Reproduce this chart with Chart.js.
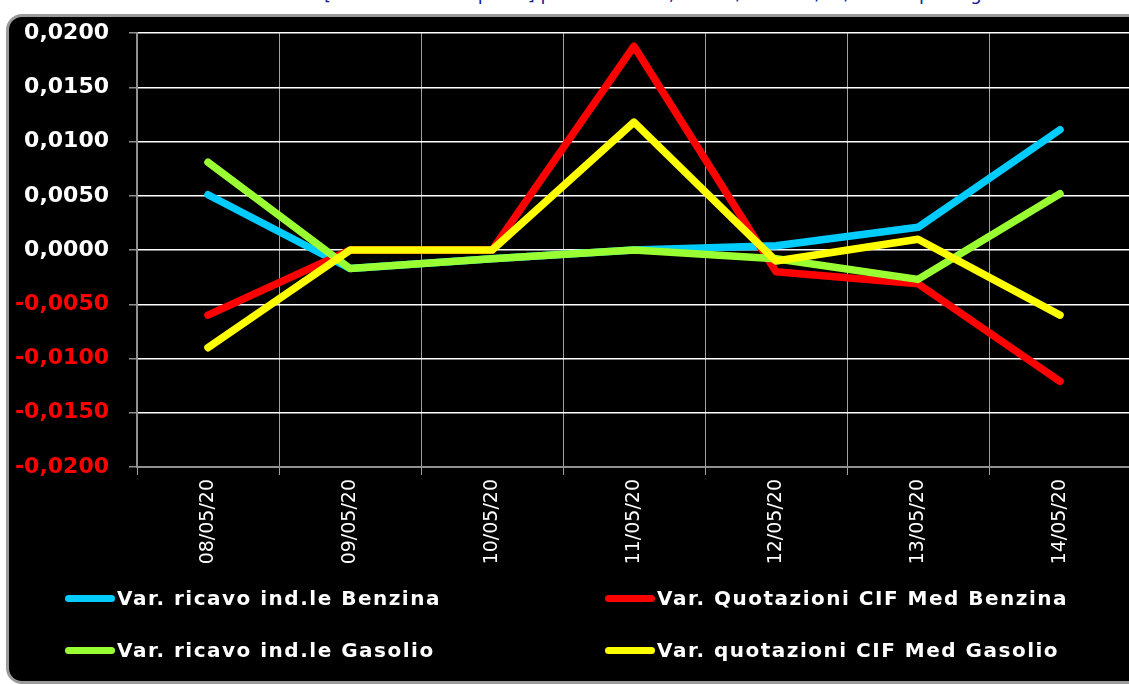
<!DOCTYPE html>
<html>
<head>
<meta charset="utf-8">
<script src="https://cdn.jsdelivr.net/npm/chart.js@4"></script>
<style>
  html, body { margin: 0; padding: 0; background: #fff; width: 1129px; height: 684px; overflow: hidden; position: relative; }
  #title { position: absolute; left: 30px; top: -17px; font: 18px "DejaVu Sans", Verdana, sans-serif; color: #1a1a9a; white-space: nowrap; }
  #box { position: absolute; left: 6px; top: 14px; width: 1135px; height: 664px; background: #000; border: 3px solid #9a9a9a; border-radius: 16px; }
  #wrap { position: absolute; left: 0; top: 0; width: 1140px; height: 684px; }
  #legend { position: absolute; left: 0; top: 0; width: 1129px; height: 684px; pointer-events: none; }
  .item { position: absolute; display: flex; align-items: center; color: #fff; font: bold 20px "DejaVu Sans", Verdana, sans-serif; letter-spacing: 1.5px; white-space: nowrap; }
  .swatch { width: 50px; height: 7px; border-radius: 4px; margin-right: 2px; }
</style>
</head>
<body>
<div id="title">Variazione del ricavo industriale [al netto delle imposte] per la benzina, dal 08/05 al 14/05/2020 e per il gasolio</div>
<div id="box"></div>
<div id="wrap"><canvas id="c" width="1140" height="684"></canvas></div>
<div id="legend"></div>
<script>
// date e serie
const days = ['08/05/20', '09/05/20', '10/05/20', '11/05/20', '12/05/20', '13/05/20', '14/05/20'];

const ricavoBenzina = [0.0051, -0.0017, -0.0008, 0.0000, 0.0004, 0.0021, 0.0111];
const cifBenzina = [-0.0060, 0.0000, 0.0000, 0.0188, -0.0020, -0.0031, -0.0121];
const ricavoGasolio = [0.0081, -0.0017, -0.0008, 0.0000, -0.0008, -0.0027, 0.0052];
const cifGasolio = [-0.0090, 0.0000, 0.0000, 0.0118, -0.0010, 0.0010, -0.0060];

const yTicks = [-0.02, -0.015, -0.01, -0.005, 0, 0.005, 0.01, 0.015, 0.02];

const series = [
  { label: 'Var. ricavo ind.le Benzina', data: ricavoBenzina, color: '#00ccff', order: 4 },
  { label: 'Var. Quotazioni CIF Med Benzina', data: cifBenzina, color: '#ff0000', order: 3 },
  { label: 'Var. ricavo ind.le Gasolio', data: ricavoGasolio, color: '#99ff33', order: 2 },
  { label: 'Var. quotazioni CIF Med Gasolio', data: cifGasolio, color: '#ffff00', order: 1 },
];

const fmt = v => (v < 0 ? '-' : '') + Math.abs(v).toFixed(4).replace('.', ',');

const chart = new Chart(document.getElementById('c').getContext('2d'), {
  type: 'line',
  data: {
    labels: days,
    datasets: series.map(s => ({
      label: s.label,
      data: s.data,
      order: s.order,
      borderColor: s.color,
      backgroundColor: s.color,
      borderWidth: 7.5,
      borderCapStyle: 'round',
      borderJoinStyle: 'round',
      pointRadius: 0,
      tension: 0,
      fill: false,
    }))
  },
  options: {
    responsive: false,
    animation: false,
    layout: { padding: { top: 31, left: 0, right: 9, bottom: 107 } },
    plugins: { legend: { display: false }, tooltip: { enabled: false } },
    scales: {
      x: {
        offset: true,
        afterFit: s => { s.height = 110; },
        grid: { offset: true, color: '#a0a0a0', lineWidth: 1, tickLength: 8, tickColor: '#a0a0a0' },
        border: { color: '#909090', width: 2 },
        ticks: {
          color: '#ffffff',
          font: { family: '"DejaVu Sans", Verdana, sans-serif', size: 19 },
          minRotation: 90, maxRotation: 90, padding: 4, autoSkip: false,
        }
      },
      y: {
        min: -0.02, max: 0.02,
        afterFit: s => { s.width = 137; },
        afterBuildTicks: s => { s.ticks = yTicks.map(v => ({ value: v })); },
        grid: { color: '#ffffff', lineWidth: 1.5, tickLength: 8, tickColor: '#909090' },
        border: { color: '#909090', width: 2 },
        ticks: {
          padding: 20,
          callback: v => fmt(v),
          color: ctx => ctx.tick.value < 0 ? '#ff0000' : '#ffffff',
          font: { family: '"DejaVu Sans", Verdana, sans-serif', size: 22, weight: 'bold' },
        }
      }
    }
  }
});

// legenda a due colonne, come nell'originale
const legend = document.getElementById('legend');
const pos = [[65, 598], [605, 598], [65, 650], [605, 650]];
chart.data.datasets.forEach((ds, i) => {
  const el = document.createElement('div');
  el.className = 'item';
  el.style.left = pos[i][0] + 'px';
  el.style.top = (pos[i][1] - 12) + 'px';
  el.innerHTML = '<span class="swatch" style="background:' + ds.borderColor + '"></span>' + ds.label;
  legend.appendChild(el);
});
</script>
</body>
</html>
